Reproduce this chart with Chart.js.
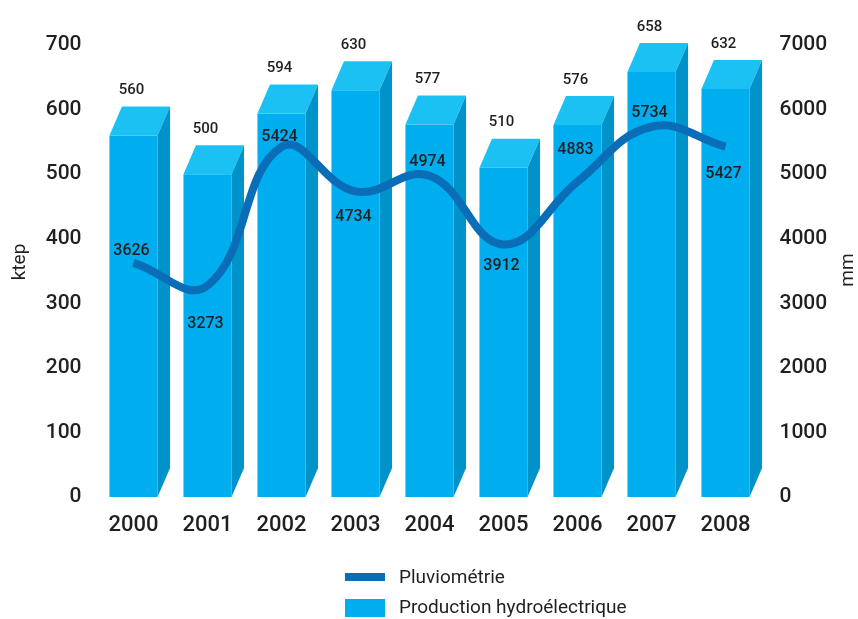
<!DOCTYPE html>
<html lang="fr">
<head>
<meta charset="utf-8">
<title>Production hydroélectrique et pluviométrie</title>
<script src="https://cdn.jsdelivr.net/npm/chart.js@4.4.1/dist/chart.umd.min.js"></script>
<style>
  html, body { margin: 0; padding: 0; background: #fff; }
  canvas { display: block; }
</style>
</head>
<body>
<canvas id="hydroChart" width="858" height="619"></canvas>
<script>
// Years on the x axis
const years = ['2000', '2001', '2002', '2003', '2004', '2005', '2006', '2007', '2008'];
// Hydroelectric production (ktep), left axis
const production = [560, 500, 594, 630, 577, 510, 576, 658, 632];
// Rainfall (mm), right axis
const rainfall = [3626, 3273, 5424, 4734, 4974, 3912, 4883, 5734, 5427];

const FONT = 'Roboto, "DejaVu Sans", sans-serif';
const TEXT = '#231f20';
const FRONT = '#00adee';
const TOP = '#1bc1f3';
const SIDE = '#0093c9';
const LINE = '#0a6db7';

// depth of the pseudo-3D extrusion
const DEPTH_X = 12.5;
const DEPTH_Y = -29;

// vertical shift of each rainfall label from its point (px, negative = above)
const rainLabelShift = [-12, 38, -10, 26, -14, 22, -32, -14, 27];

const boxPlugin = {
  id: 'box3d',
  afterDatasetDraw(chart, args) {
    if (args.meta.type !== 'bar') return;
    const ctx = chart.ctx;
    ctx.save();
    args.meta.data.forEach((bar) => {
      const { x, y, base, width } = bar.getProps(['x', 'y', 'base', 'width'], true);
      const l = x - width / 2;
      const r = x + width / 2;
      // top face
      ctx.fillStyle = TOP;
      ctx.beginPath();
      ctx.moveTo(l, y);
      ctx.lineTo(r, y);
      ctx.lineTo(r + DEPTH_X, y + DEPTH_Y);
      ctx.lineTo(l + DEPTH_X, y + DEPTH_Y);
      ctx.closePath();
      ctx.fill();
      // right side face
      ctx.fillStyle = SIDE;
      ctx.beginPath();
      ctx.moveTo(r, y);
      ctx.lineTo(r + DEPTH_X, y + DEPTH_Y);
      ctx.lineTo(r + DEPTH_X, base + DEPTH_Y);
      ctx.lineTo(r, base);
      ctx.closePath();
      ctx.fill();
    });
    ctx.restore();
  },
  afterDraw(chart) {
    const ctx = chart.ctx;
    const barMeta = chart.getDatasetMeta(0);
    const lineMeta = chart.getDatasetMeta(1);
    ctx.save();
    ctx.fillStyle = TEXT;
    ctx.textAlign = 'center';
    ctx.textBaseline = 'middle';

    // production values above the boxes
    ctx.font = '500 15px ' + FONT;
    barMeta.data.forEach((bar, i) => {
      ctx.fillText(String(production[i]), bar.x - 2, bar.y - 45);
    });

    // rainfall values near the curve
    ctx.font = '500 16px ' + FONT;
    lineMeta.data.forEach((pt, i) => {
      ctx.fillText(String(rainfall[i]), pt.x - 2, pt.y + rainLabelShift[i]);
    });

    // axis titles, both reading bottom to top
    ctx.font = '400 19px ' + FONT;
    ctx.save();
    ctx.translate(20, 262);
    ctx.rotate(-Math.PI / 2);
    ctx.fillText('ktep', 0, 0);
    ctx.restore();
    ctx.save();
    ctx.translate(848, 270);
    ctx.rotate(-Math.PI / 2);
    ctx.fillText('mm', 0, 0);
    ctx.restore();

    // legend
    ctx.textAlign = 'left';
    ctx.font = '400 19px ' + FONT;
    ctx.fillStyle = LINE;
    ctx.fillRect(345, 573, 40, 8);
    ctx.fillStyle = FRONT;
    ctx.fillRect(345, 599, 40, 18);
    ctx.fillStyle = TEXT;
    ctx.fillText(chart.data.datasets[1].label, 399, 578);
    ctx.fillText(chart.data.datasets[0].label, 399, 608);
    ctx.restore();
  }
};

const tickFont = { family: FONT, size: 21, weight: '500' };

new Chart(document.getElementById('hydroChart'), {
  data: {
    labels: years,
    datasets: [
      {
        type: 'bar',
        label: 'Production hydroélectrique',
        data: production,
        yAxisID: 'y',
        backgroundColor: FRONT,
        borderWidth: 0,
        barPercentage: 0.65,
        categoryPercentage: 1,
        order: 1,
      },
      {
        type: 'line',
        label: 'Pluviométrie',
        data: rainfall,
        yAxisID: 'y1',
        borderColor: LINE,
        borderWidth: 8,
        borderCapStyle: 'butt',
        pointRadius: 0,
        tension: 0.42,
        fill: false,
        order: 0,
      },
    ],
  },
  options: {
    responsive: false,
    animation: false,
    layout: { padding: { top: 45, left: 0, right: 0, bottom: 0 } },
    plugins: {
      legend: { display: false },
      tooltip: { enabled: false },
      title: { display: false },
    },
    scales: {
      x: {
        grid: { display: false, drawTicks: false },
        border: { display: false },
        ticks: { font: { family: FONT, size: 22, weight: '500' }, color: TEXT, padding: 15 },
        afterFit(scale) { scale.height = 122; },
      },
      y: {
        position: 'left',
        min: 0,
        max: 700,
        ticks: { stepSize: 100, font: tickFont, color: TEXT, padding: 15 },
        grid: { display: false, drawTicks: false },
        border: { display: false },
        afterFit(scale) { scale.width = 96.5; },
      },
      y1: {
        position: 'right',
        min: 0,
        max: 7000,
        ticks: {
          stepSize: 1000,
          font: tickFont,
          color: TEXT,
          padding: 17,
          callback: (value) => String(value),
        },
        grid: { display: false, drawTicks: false },
        border: { display: false },
        afterFit(scale) { scale.width = 95.5; },
      },
    },
  },
  plugins: [boxPlugin],
});
</script>
</body>
</html>
